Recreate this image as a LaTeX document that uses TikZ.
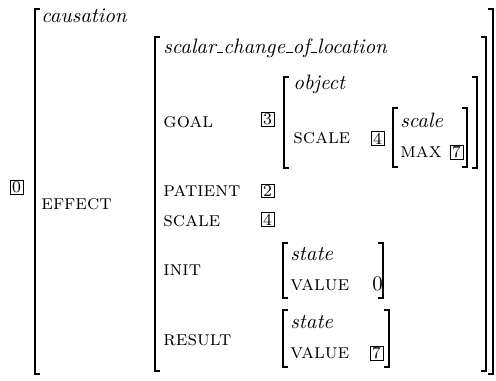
\documentclass[tikz,border=0pt]{standalone}
\newcommand\avmus{\leavevmode\kern.06em\vbox{\hrule width.3em}}
\begin{document}
\begin{tikzpicture}[x = 0.48pt, y = -0.48pt,
	avmattr/.style = {anchor = base west, inner sep = 0pt, font = \scshape},
	avmtype/.style = {anchor = base west, inner sep = 0pt, font = \itshape},
	avmtag/.style = {draw, line width = 0.4pt, font = \footnotesize, inner xsep = 1pt, inner ysep = 0.6pt},
	avmbrk/.style = {line width = 0.6pt}]

\useasboundingbox (0, 0) rectangle (496, 380);

\foreach \l/\r/\t/\b in {35/493/9/374, 155/486/37/371, 284/477/77/168, 393/467/108/167, 283/383/243/298, 283/389/310/367} {
	\draw[avmbrk] (\l + 5, \t) -- (\l, \t) -- (\l, \b) -- (\l + 5, \b);
	\draw[avmbrk] (\r - 5, \t) -- (\r, \t) -- (\r, \b) -- (\r - 5, \b);
}

\node[avmtag] (tag0) at (16.5, 187) {0};
\node[avmtype] (causation) at (41, 22) {causation};
\node[avmattr] (effect) at (41, 209) {effect};

\node[avmtype] (scalar) at (163, 53) {scalar\avmus change\avmus of\avmus location};
\node[avmattr] (goal) at (163, 127) {goal};
\node[avmtag] (tag3) at (267.5, 119) {3};
\node[avmtype] (object) at (293, 89) {object};
\node[avmattr] (scaleA) at (293, 143) {scale};
\node[avmtag] (tag4a) at (377.5, 138.5) {4};
\node[avmtype] (scaletype) at (400, 127) {scale};
\node[avmattr] (max) at (400, 157) {max};
\node[avmtag] (tag7a) at (456.5, 152) {7};

\node[avmattr] (patient) at (163, 196) {patient};
\node[avmtag] (tag2) at (267.5, 191) {2};
\node[avmattr] (scaleB) at (163, 226) {scale};
\node[avmtag] (tag4b) at (267.5, 219.5) {4};

\node[avmattr] (init) at (163, 275) {init};
\node[avmtype] (stateA) at (290, 260) {state};
\node[avmattr] (valueA) at (290, 290) {value};
\node[anchor = base west, inner sep = 0pt] (zero) at (372, 290) {0};

\node[avmattr] (result) at (163, 345) {result};
\node[avmtype] (stateB) at (290, 328) {state};
\node[avmattr] (valueB) at (290, 358) {value};
\node[avmtag] (tag7b) at (376.5, 353.5) {7};

\end{tikzpicture}
\end{document}
